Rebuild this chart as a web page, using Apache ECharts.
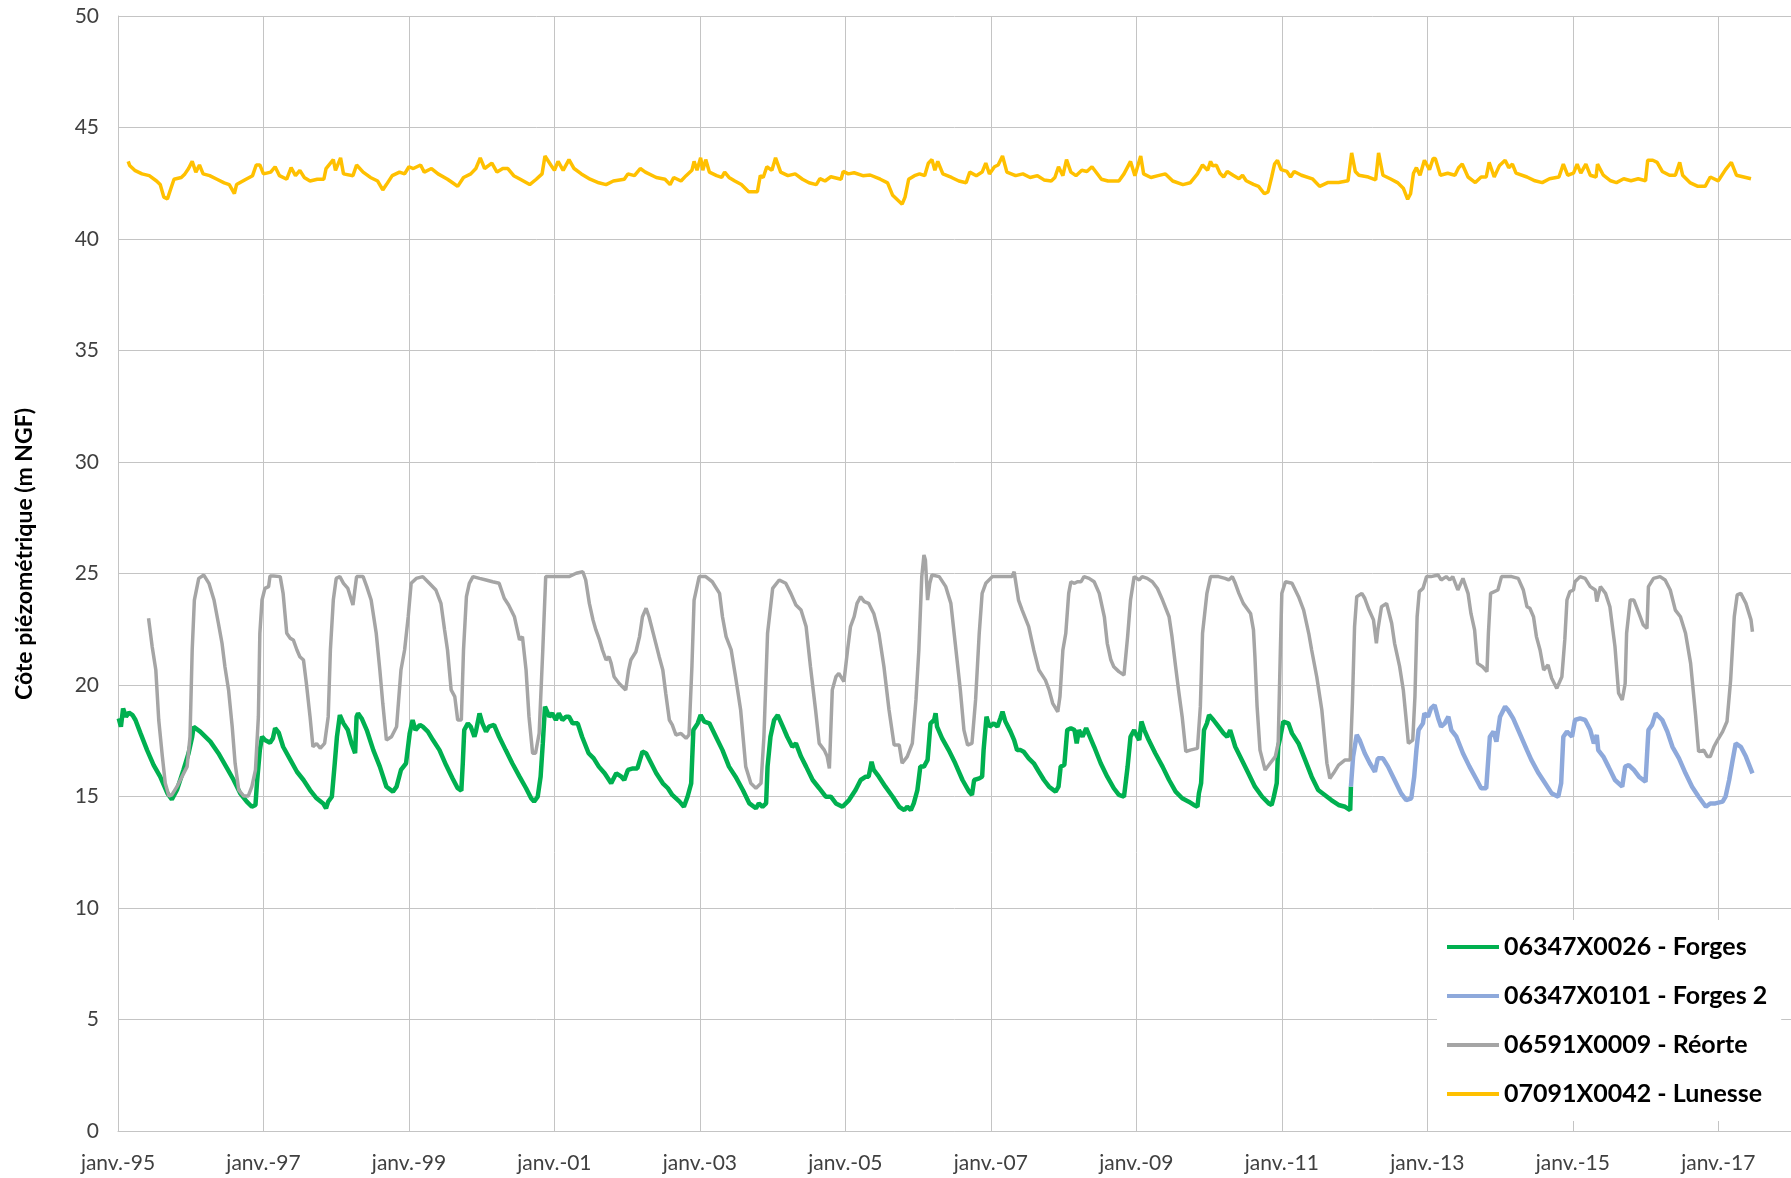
<!DOCTYPE html>
<html>
<head>
<meta charset="utf-8">
<script src="https://cdn.jsdelivr.net/npm/echarts@6/dist/echarts.min.js"></script>
<style>
html,body{margin:0;padding:0;background:#fff;}
#chart{width:1791px;height:1178px;}
</style>
</head>
<body>
<div id="chart"></div>
<script>
// ---- Data (x = decimal year, y = m NGF) ----
const seriesNames = ['06347X0026 - Forges', '06347X0101 - Forges 2', '06591X0009 - Réorte', '07091X0042 - Lunesse'];
const yearTicks = [1995, 1997, 1999, 2001, 2003, 2005, 2007, 2009, 2011, 2013, 2015, 2017];
const yAxisTitle = 'Côte piézométrique (m NGF)';

const forgesData = [
[1995.01,18.50],[1995.04,18.13],[1995.07,18.95],[1995.11,18.58],[1995.15,18.76],[1995.20,18.65],[1995.24,18.43],[1995.31,17.83],[1995.40,17.08],[1995.49,16.41],[1995.58,15.89],[1995.68,15.14],[1995.74,14.87],[1995.81,15.29],[1995.90,16.19],[1995.97,16.94],[1996.02,17.68],[1996.04,18.13],[1996.13,17.91],[1996.27,17.46],[1996.38,16.94],[1996.50,16.26],[1996.59,15.74],[1996.68,15.14],[1996.77,14.77],[1996.84,14.54],[1996.89,14.62],[1996.91,15.59],[1996.95,17.08],[1996.98,17.68],[1997.02,17.53],[1997.09,17.41],[1997.13,17.61],[1997.16,18.06],[1997.21,17.86],[1997.27,17.23],[1997.37,16.64],[1997.46,16.11],[1997.55,15.74],[1997.64,15.29],[1997.73,14.92],[1997.82,14.69],[1997.86,14.47],[1997.89,14.77],[1997.94,14.99],[1997.98,16.49],[1998.01,17.68],[1998.05,18.65],[1998.10,18.28],[1998.16,17.98],[1998.21,17.38],[1998.26,16.94],[1998.28,18.58],[1998.30,18.73],[1998.35,18.50],[1998.42,17.98],[1998.51,17.08],[1998.60,16.34],[1998.69,15.44],[1998.78,15.22],[1998.83,15.44],[1998.89,16.19],[1998.96,16.49],[1999.01,17.83],[1999.05,18.43],[1999.09,17.98],[1999.15,18.21],[1999.19,18.13],[1999.26,17.91],[1999.33,17.53],[1999.42,17.08],[1999.51,16.41],[1999.60,15.81],[1999.67,15.37],[1999.72,15.26],[1999.74,16.49],[1999.76,17.98],[1999.81,18.28],[1999.85,18.13],[1999.90,17.68],[1999.92,17.91],[1999.97,18.73],[2000.01,18.28],[2000.06,17.91],[2000.10,18.13],[2000.17,18.21],[2000.24,17.68],[2000.33,17.08],[2000.42,16.49],[2000.52,15.89],[2000.61,15.37],[2000.68,14.92],[2000.72,14.77],[2000.77,14.99],[2000.81,15.89],[2000.84,17.38],[2000.87,19.03],[2000.93,18.58],[2000.97,18.73],[2001.02,18.43],[2001.06,18.73],[2001.11,18.43],[2001.16,18.58],[2001.20,18.58],[2001.25,18.28],[2001.32,18.28],[2001.38,17.68],[2001.47,16.94],[2001.54,16.71],[2001.61,16.34],
[2001.69,16.04],[2001.78,15.59],[2001.85,16.04],[2001.92,15.89],[2001.96,15.74],[2002.01,16.19],[2002.08,16.26],[2002.14,16.26],[2002.21,17.01],[2002.26,16.94],[2002.33,16.49],[2002.40,16.04],[2002.49,15.59],[2002.56,15.37],[2002.62,15.07],[2002.72,14.77],[2002.78,14.54],[2002.83,14.99],[2002.88,15.59],[2002.91,17.98],[2002.97,18.28],[2003.01,18.65],[2003.06,18.36],[2003.13,18.28],[2003.22,17.68],[2003.31,17.08],[2003.40,16.34],[2003.49,15.89],[2003.59,15.29],[2003.68,14.69],[2003.77,14.47],[2003.81,14.69],[2003.86,14.54],[2003.91,14.69],[2003.93,16.34],[2003.97,17.68],[2004.02,18.43],[2004.07,18.65],[2004.14,18.13],[2004.20,17.68],[2004.27,17.23],[2004.32,17.38],[2004.39,16.79],[2004.46,16.34],[2004.55,15.74],[2004.64,15.37],[2004.73,14.99],[2004.80,14.99],[2004.87,14.69],[2004.96,14.54],[2005.05,14.84],[2005.14,15.29],[2005.21,15.74],[2005.28,15.89],[2005.32,15.89],[2005.36,16.56],[2005.39,16.19],[2005.46,15.89],[2005.55,15.44],[2005.65,14.99],[2005.74,14.54],[2005.81,14.39],[2005.85,14.54],[2005.90,14.39],[2005.94,14.69],[2005.99,15.29],[2006.03,16.34],[2006.08,16.34],[2006.13,16.64],[2006.17,18.28],[2006.22,18.43],[2006.24,18.73],[2006.26,18.13],[2006.33,17.61],[2006.42,17.08],[2006.51,16.49],[2006.61,15.74],[2006.70,15.22],[2006.74,15.07],[2006.77,15.74],[2006.84,15.81],[2006.88,15.89],[2006.90,17.08],[2006.94,18.58],[2006.98,18.13],[2007.04,18.28],[2007.09,18.13],[2007.13,18.50],[2007.16,18.80],[2007.20,18.36],[2007.27,17.91],[2007.32,17.53],[2007.36,17.08],[2007.41,17.08],[2007.45,17.01],[2007.52,16.71],[2007.59,16.49],[2007.66,16.11],[2007.73,15.74],[2007.80,15.44],
[2007.89,15.22],[2007.93,15.44],[2007.96,16.34],[2008.01,16.41],[2008.05,17.98],[2008.10,18.06],[2008.15,17.98],[2008.18,17.38],[2008.21,17.98],[2008.26,17.68],[2008.31,18.06],[2008.35,17.76],[2008.42,17.23],[2008.51,16.49],[2008.60,15.89],[2008.69,15.37],[2008.76,15.07],[2008.83,14.99],[2008.88,16.34],[2008.92,17.68],[2008.97,17.98],[2009.00,17.76],[2009.04,17.53],[2009.07,18.36],[2009.11,17.98],[2009.17,17.53],[2009.26,16.94],[2009.36,16.34],[2009.45,15.74],[2009.54,15.22],[2009.63,14.92],[2009.72,14.77],[2009.79,14.62],[2009.84,14.54],[2009.86,15.14],[2009.89,15.59],[2009.93,17.98],[2009.97,18.28],[2010.00,18.65],[2010.06,18.43],[2010.13,18.13],[2010.20,17.83],[2010.25,17.68],[2010.29,17.98],[2010.36,17.23],[2010.45,16.64],[2010.54,16.04],[2010.63,15.44],[2010.73,14.99],[2010.82,14.69],[2010.86,14.62],[2010.89,14.99],[2010.93,15.59],[2010.95,17.23],[2010.98,17.68],[2011.02,18.36],[2011.09,18.28],[2011.14,17.83],[2011.23,17.38],[2011.32,16.64],[2011.41,15.89],[2011.50,15.29],[2011.59,15.07],[2011.68,14.84],[2011.78,14.62],[2011.87,14.54],[2011.94,14.39],[2011.95,15.44]
];

const forges2Data = [
[2011.95,15.44],[2011.98,16.79],[2012.03,17.76],[2012.07,17.53],[2012.14,16.94],[2012.21,16.49],[2012.28,16.11],[2012.32,16.71],[2012.39,16.71],[2012.46,16.34],[2012.55,15.74],[2012.64,15.14],[2012.71,14.84],[2012.78,14.92],[2012.82,15.89],[2012.85,17.08],[2012.88,17.98],[2012.94,18.28],[2012.96,18.73],[2013.01,18.58],[2013.05,18.95],[2013.10,19.10],[2013.15,18.50],[2013.19,18.13],[2013.24,18.28],[2013.29,18.58],[2013.33,17.98],[2013.40,17.68],[2013.49,16.94],[2013.58,16.34],[2013.68,15.74],[2013.74,15.37],[2013.81,15.37],[2013.86,17.68],[2013.91,17.91],[2013.95,17.46],[2014.00,18.58],[2014.07,19.03],[2014.11,18.88],[2014.18,18.50],[2014.27,17.83],[2014.37,17.08],[2014.43,16.64],[2014.53,16.04],[2014.62,15.59],[2014.71,15.14],[2014.80,14.99],[2014.84,15.59],[2014.87,17.68],[2014.92,17.91],[2014.99,17.68],[2015.03,18.43],[2015.10,18.50],[2015.17,18.43],[2015.24,17.98],[2015.29,17.38],[2015.33,17.76],[2015.35,17.08],[2015.42,16.79],[2015.49,16.34],[2015.58,15.74],[2015.68,15.44],[2015.72,16.34],[2015.77,16.41],[2015.84,16.19],[2015.91,15.89],[2016.00,15.66],[2016.04,17.98],[2016.09,18.21],[2016.14,18.73],[2016.23,18.43],[2016.30,17.91],[2016.37,17.23],[2016.46,16.71],[2016.55,16.04],[2016.64,15.44],[2016.73,14.99],[2016.83,14.54],[2016.89,14.69],[2016.96,14.69],[2017.06,14.77],[2017.10,14.99],[2017.15,15.74],[2017.19,16.49],[2017.24,17.38],[2017.31,17.23],[2017.38,16.79],[2017.47,16.04]
];

const reorteData = [
[1995.42,22.99],[1995.47,21.72],[1995.52,20.67],[1995.56,18.43],[1995.61,16.79],[1995.65,15.59],[1995.70,15.02],[1995.74,15.07],[1995.81,15.44],[1995.88,15.89],[1995.95,16.34],[1995.99,17.68],[1996.02,21.57],[1996.05,23.81],[1996.11,24.78],[1996.18,24.93],[1996.25,24.56],[1996.32,23.81],[1996.38,22.77],[1996.43,21.87],[1996.47,20.82],[1996.52,19.78],[1996.57,18.13],[1996.61,16.49],[1996.66,15.29],[1996.73,15.02],[1996.79,15.02],[1996.84,15.44],[1996.89,16.19],[1996.93,18.58],[1996.95,22.32],[1996.98,23.81],[1997.02,24.33],[1997.07,24.41],[1997.09,24.89],[1997.14,24.89],[1997.23,24.86],[1997.27,24.11],[1997.32,22.32],[1997.37,22.09],[1997.41,22.02],[1997.46,21.57],[1997.50,21.27],[1997.55,21.12],[1997.59,20.07],[1997.64,18.58],[1997.68,17.23],[1997.73,17.38],[1997.78,17.16],[1997.84,17.38],[1997.89,18.58],[1997.92,21.57],[1997.96,23.81],[1998.00,24.78],[1998.05,24.86],[1998.10,24.56],[1998.16,24.33],[1998.23,23.59],[1998.28,24.86],[1998.37,24.86],[1998.42,24.41],[1998.48,23.81],[1998.55,22.32],[1998.60,20.67],[1998.64,19.18],[1998.69,17.53],[1998.76,17.68],[1998.83,18.13],[1998.89,20.67],[1998.94,21.57],[1998.99,23.06],[1999.03,24.56],[1999.10,24.78],[1999.19,24.86],[1999.28,24.56],[1999.37,24.26],[1999.44,23.66],[1999.49,22.47],[1999.53,21.57],[1999.58,19.78],[1999.63,19.48],[1999.67,18.43],[1999.72,18.43],[1999.75,21.57],[1999.79,23.96],[1999.83,24.56],[1999.88,24.86],[1999.97,24.78],[2000.06,24.71],[2000.15,24.63],[2000.24,24.56],[2000.31,23.89],[2000.37,23.59],[2000.45,23.06],[2000.52,22.02],[2000.56,22.17],[2000.61,20.67],[2000.65,18.58],[2000.70,16.94],[2000.74,16.94],[2000.79,17.83],[2000.84,21.57],[2000.88,24.86],[2000.97,24.86],[2001.06,24.86],[2001.20,24.86],[2001.30,25.01],[2001.39,25.08],[2001.43,24.71],[2001.48,23.66],[2001.53,22.92],[2001.57,22.47],[2001.62,22.02],[2001.66,21.57],[2001.71,21.12],[2001.75,21.27],[2001.78,20.97],[2001.82,20.37],[2001.89,20.07],[2001.98,19.78],[2002.02,20.67],[2002.05,21.12],[2002.12,21.49],[2002.17,22.17],[2002.21,23.06],[2002.26,23.44],[2002.30,23.06],[2002.37,22.17],[2002.44,21.27],[2002.49,20.67],[2002.53,19.63],[2002.58,18.43],[2002.62,18.21],[2002.67,17.76],[2002.74,17.83],[2002.81,17.61],[2002.85,17.76],[2002.89,20.82],[2002.92,23.81],[2002.99,24.86],[2003.08,24.86],[2003.17,24.63],[2003.27,24.11],[2003.31,23.06],[2003.36,22.17],[2003.43,21.57],[2003.49,20.37],[2003.56,18.88],[2003.63,16.34],[2003.70,15.59],[2003.77,15.37],[2003.84,15.59],[2003.88,17.68],[2003.93,22.32],[2004.00,24.33],[2004.09,24.71],[2004.18,24.56],[2004.25,24.11],[2004.32,23.59],[2004.39,23.36],[2004.46,22.62],[2004.52,20.82],[2004.59,18.88],[2004.64,17.38],[2004.71,17.08],[2004.75,16.79],[2004.78,16.26],[2004.82,19.78],[2004.87,20.37],[2004.91,20.52],[2004.98,20.15],[2005.03,21.57],[2005.07,22.62],[2005.12,23.06],[2005.16,23.66],[2005.21,23.96],[2005.26,23.74],[2005.32,23.66],[2005.39,23.21],[2005.46,22.32],[2005.53,20.82],[2005.60,18.88],[2005.67,17.31],[2005.74,17.31],[2005.78,16.49],[2005.85,16.79],[2005.92,17.38],[2005.97,19.33],[2006.01,21.57],[2006.05,24.86],[2006.08,25.83],[2006.10,25.61],[2006.13,23.81],[2006.16,24.56],[2006.19,24.93],[2006.29,24.86],[2006.38,24.41],[2006.45,23.66],[2006.51,21.87],[2006.58,19.78],[2006.63,17.98],[2006.68,17.31],[2006.74,17.38],[2006.79,19.33],[2006.84,22.32],[2006.88,24.11],[2006.93,24.56],[2007.02,24.86],[2007.16,24.86],[2007.29,24.86],[2007.32,25.08],[2007.38,23.81],[2007.43,23.36],[2007.52,22.62],[2007.59,21.57],[2007.66,20.67],[2007.75,20.22],[2007.80,19.78],[2007.85,19.18],[2007.92,18.80],[2007.95,19.48],[2007.99,21.57],[2008.03,22.32],[2008.07,24.11],[2008.10,24.63],[2008.15,24.56],[2008.19,24.63],[2008.24,24.63],[2008.28,24.86],[2008.35,24.78],[2008.42,24.63],[2008.49,24.11],[2008.56,23.06],[2008.60,21.87],[2008.65,21.12],[2008.69,20.82],[2008.76,20.60],[2008.83,20.45],[2008.88,22.17],[2008.92,23.81],[2008.97,24.86],[2009.04,24.71],[2009.08,24.86],[2009.15,24.78],[2009.22,24.63],[2009.29,24.33],[2009.36,23.81],[2009.45,23.06],[2009.49,22.17],[2009.54,20.82],[2009.58,19.78],[2009.63,18.58],[2009.68,17.01],[2009.74,17.08],[2009.84,17.16],[2009.88,19.03],[2009.91,22.32],[2009.97,24.11],[2010.02,24.86],[2010.13,24.86],[2010.22,24.78],[2010.27,24.71],[2010.32,24.86],[2010.36,24.56],[2010.41,24.11],[2010.47,23.66],[2010.57,23.21],[2010.61,22.47],[2010.63,21.27],[2010.66,19.03],[2010.70,17.08],[2010.77,16.19],[2010.84,16.49],[2010.91,16.79],[2010.95,17.38],[2010.98,21.57],[2011.00,24.11],[2011.05,24.63],[2011.14,24.56],[2011.23,23.96],[2011.30,23.36],[2011.37,22.32],[2011.41,21.57],[2011.48,20.37],[2011.55,18.88],[2011.62,16.49],[2011.66,15.81],[2011.71,16.04],[2011.78,16.41],[2011.87,16.64],[2011.94,16.64],[2011.97,19.18],[2012.00,22.62],[2012.03,23.96],[2012.10,24.11],[2012.14,23.89],[2012.20,23.36],[2012.26,22.92],[2012.30,21.87],[2012.32,22.47],[2012.37,23.51],[2012.44,23.66],[2012.51,22.77],[2012.55,21.87],[2012.62,20.82],[2012.67,19.78],[2012.71,18.43],[2012.74,17.38],[2012.80,17.53],[2012.83,19.48],[2012.86,23.06],[2012.89,24.19],[2012.94,24.33],[2012.99,24.86],[2013.05,24.86],[2013.15,24.93],[2013.19,24.71],[2013.26,24.86],[2013.31,24.71],[2013.35,24.86],[2013.42,24.26],[2013.49,24.78],[2013.56,24.11],[2013.60,23.21],[2013.65,22.47],[2013.69,20.97],[2013.76,20.82],[2013.82,20.60],[2013.84,22.32],[2013.87,24.11],[2013.97,24.26],[2014.02,24.86],[2014.16,24.86],[2014.25,24.78],[2014.32,24.26],[2014.37,23.51],[2014.41,23.44],[2014.46,23.06],[2014.50,22.17],[2014.55,21.57],[2014.60,20.67],[2014.66,20.90],[2014.71,20.30],[2014.78,19.85],[2014.85,20.37],[2014.89,22.02],[2014.92,23.81],[2014.96,24.19],[2015.01,24.26],[2015.03,24.63],[2015.10,24.86],[2015.17,24.78],[2015.24,24.41],[2015.31,24.26],[2015.33,23.74],[2015.38,24.41],[2015.45,24.11],[2015.51,23.51],[2015.58,21.72],[2015.63,19.63],[2015.68,19.33],[2015.72,20.07],[2015.74,22.32],[2015.79,23.81],[2015.84,23.81],[2015.91,23.21],[2015.97,22.69],[2016.02,22.54],[2016.04,24.41],[2016.11,24.78],[2016.20,24.86],[2016.27,24.71],[2016.34,24.26],[2016.41,23.36],[2016.48,23.06],[2016.55,22.32],[2016.62,20.97],[2016.69,18.58],[2016.73,17.01],[2016.80,17.08],[2016.85,16.79],[2016.89,16.79],[2016.94,17.23],[2016.99,17.53],[2017.06,17.91],[2017.12,18.36],[2017.17,20.22],[2017.22,23.06],[2017.26,24.04],[2017.31,24.11],[2017.38,23.66],[2017.45,22.92],[2017.47,22.39]
];

const lunesseData = [
[1995.14,43.48],[1995.16,43.30],[1995.23,43.08],[1995.33,42.92],[1995.43,42.84],[1995.53,42.60],[1995.58,42.44],[1995.63,41.88],[1995.68,41.80],[1995.72,42.20],[1995.77,42.68],[1995.87,42.76],[1995.92,42.92],[1995.97,43.16],[1996.02,43.48],[1996.07,43.00],[1996.12,43.32],[1996.17,42.92],[1996.26,42.84],[1996.36,42.68],[1996.46,42.52],[1996.53,42.44],[1996.60,42.04],[1996.63,42.44],[1996.76,42.68],[1996.85,42.84],[1996.90,43.32],[1996.95,43.32],[1997.00,42.92],[1997.10,43.00],[1997.16,43.24],[1997.22,42.84],[1997.32,42.68],[1997.38,43.20],[1997.44,42.84],[1997.50,43.08],[1997.56,42.76],[1997.64,42.60],[1997.74,42.68],[1997.83,42.68],[1997.86,43.16],[1997.96,43.56],[1997.99,43.08],[1998.06,43.64],[1998.10,42.92],[1998.23,42.84],[1998.28,43.32],[1998.37,43.00],[1998.47,42.76],[1998.57,42.60],[1998.64,42.20],[1998.69,42.44],[1998.77,42.84],[1998.87,43.00],[1998.94,42.92],[1999.00,43.24],[1999.06,43.16],[1999.16,43.32],[1999.21,43.00],[1999.31,43.16],[1999.40,42.92],[1999.53,42.68],[1999.60,42.52],[1999.67,42.36],[1999.75,42.76],[1999.85,42.92],[1999.92,43.16],[1999.98,43.64],[2000.04,43.16],[2000.14,43.40],[2000.21,43.00],[2000.29,43.16],[2000.36,43.16],[2000.44,42.84],[2000.53,42.68],[2000.66,42.44],[2000.75,42.68],[2000.83,42.92],[2000.87,43.72],[2000.95,43.32],[2001.00,43.08],[2001.05,43.48],[2001.12,43.08],[2001.20,43.56],[2001.27,43.16],[2001.37,42.92],[2001.49,42.68],[2001.61,42.52],[2001.71,42.44],[2001.81,42.60],[2001.96,42.68],[2002.01,42.92],[2002.10,42.84],[2002.18,43.16],[2002.25,43.00],[2002.40,42.76],
[2002.52,42.68],[2002.59,42.44],[2002.64,42.76],[2002.74,42.60],[2002.81,42.84],[2002.89,43.08],[2002.92,43.48],[2002.96,43.08],[2003.01,43.64],[2003.04,43.08],[2003.08,43.56],[2003.13,43.00],[2003.23,42.84],[2003.30,42.76],[2003.34,43.00],[2003.40,42.76],[2003.48,42.60],[2003.57,42.44],[2003.67,42.12],[2003.79,42.12],[2003.83,42.84],[2003.87,42.76],[2003.92,43.24],[2003.99,43.08],[2004.04,43.64],[2004.11,43.00],[2004.21,42.84],[2004.31,42.92],[2004.41,42.68],[2004.50,42.52],[2004.60,42.44],[2004.65,42.71],[2004.72,42.60],[2004.80,42.79],[2004.94,42.68],[2004.97,43.03],[2005.04,42.92],[2005.12,42.97],[2005.24,42.84],[2005.34,42.87],[2005.48,42.68],[2005.58,42.52],[2005.65,41.96],[2005.78,41.56],[2005.82,41.88],[2005.87,42.68],[2005.95,42.84],[2006.02,42.92],[2006.09,42.84],[2006.14,43.40],[2006.19,43.56],[2006.23,43.08],[2006.27,43.48],[2006.34,42.92],[2006.46,42.76],[2006.56,42.60],[2006.66,42.52],[2006.71,43.00],[2006.80,42.84],[2006.88,43.00],[2006.93,43.40],[2006.98,42.92],[2007.05,43.24],[2007.10,43.32],[2007.16,43.72],[2007.22,43.00],[2007.34,42.84],[2007.44,42.92],[2007.54,42.76],[2007.64,42.84],[2007.73,42.65],[2007.83,42.60],[2007.88,42.76],[2007.93,43.24],[2007.99,42.84],[2008.04,43.56],[2008.10,43.00],[2008.17,42.84],[2008.25,43.08],[2008.32,43.03],[2008.39,43.24],[2008.52,42.68],[2008.61,42.60],[2008.76,42.60],[2008.83,42.92],[2008.92,43.48],[2008.98,42.84],[2009.06,43.72],[2009.10,42.92],[2009.20,42.76],[2009.30,42.84],[2009.40,42.92],[2009.50,42.60],[2009.64,42.44],[2009.74,42.52],[2009.84,42.92],[2009.91,43.32],[2009.98,43.08],[2010.02,43.48],[2010.05,43.28],
[2010.10,43.31],[2010.15,42.95],[2010.20,42.78],[2010.25,43.03],[2010.33,42.86],[2010.41,42.70],[2010.46,42.86],[2010.51,42.61],[2010.61,42.45],[2010.68,42.36],[2010.76,42.03],[2010.81,42.11],[2010.86,42.78],[2010.90,43.36],[2010.94,43.53],[2010.99,43.11],[2011.07,43.03],[2011.12,42.78],[2011.17,43.03],[2011.27,42.86],[2011.42,42.70],[2011.52,42.36],[2011.63,42.53],[2011.78,42.53],[2011.91,42.61],[2011.96,43.86],[2012.01,43.03],[2012.06,42.86],[2012.19,42.78],[2012.29,42.65],[2012.33,43.86],[2012.39,42.86],[2012.49,42.70],[2012.59,42.53],[2012.67,42.28],[2012.73,41.78],[2012.77,42.03],[2012.81,42.95],[2012.85,43.20],[2012.90,42.86],[2012.96,43.53],[2013.03,43.11],[2013.08,43.61],[2013.11,43.61],[2013.18,42.86],[2013.28,42.95],[2013.38,42.86],[2013.43,43.20],[2013.48,43.36],[2013.56,42.78],[2013.66,42.53],[2013.74,42.78],[2013.81,42.78],[2013.85,43.44],[2013.92,42.78],[2013.99,43.28],[2014.07,43.53],[2014.12,43.20],[2014.17,43.36],[2014.22,42.95],[2014.37,42.78],[2014.48,42.61],[2014.58,42.53],[2014.68,42.70],[2014.81,42.78],[2014.87,43.36],[2014.93,42.86],[2015.01,42.95],[2015.06,43.36],[2015.11,42.95],[2015.18,43.36],[2015.24,42.86],[2015.32,42.78],[2015.34,43.36],[2015.42,42.86],[2015.52,42.61],[2015.60,42.53],[2015.70,42.70],[2015.80,42.61],[2015.90,42.70],[2016.00,42.61],[2016.03,43.53],[2016.10,43.53],[2016.16,43.44],[2016.23,43.03],[2016.33,42.86],[2016.41,42.86],[2016.47,43.44],[2016.51,42.86],[2016.61,42.53],[2016.72,42.36],[2016.82,42.36],[2016.89,42.78],[2017.00,42.61],[2017.10,43.11],[2017.18,43.44],[2017.25,42.86],[2017.35,42.78],[2017.45,42.70]
];

const colors = ['#00B050', '#8EA9DB', '#A5A5A5', '#FFC000'];
const widths = [4.5, 4.5, 3.5, 3.5];
const allData = [forgesData, forges2Data, reorteData, lunesseData];

const chart = echarts.init(document.getElementById('chart'));
const FONT = 'Lato, "Open Sans", sans-serif';
const gridColor = '#c4c4c4';

chart.setOption({
  animation: false,
  backgroundColor: '#ffffff',
  textStyle: { fontFamily: FONT },
  grid: { left: 118, right: 0, top: 16, bottom: 47, containLabel: false },
  xAxis: {
    type: 'value', min: 1995, max: 2018, interval: 2,
    axisLine: { show: true, lineStyle: { color: gridColor, width: 1 } },
    axisTick: { show: false, customValues: yearTicks },
    splitLine: { show: true, lineStyle: { color: gridColor, width: 1 } },
    axisLabel: {
      customValues: yearTicks,
      fontFamily: FONT, fontSize: 21, color: '#404040', margin: 22,
      formatter: v => 'janv.-' + String(Math.round(v)).slice(2)
    }
  },
  yAxis: {
    type: 'value', min: 0, max: 50, interval: 5,
    axisLine: { show: true, lineStyle: { color: gridColor, width: 1 } },
    axisTick: { show: false },
    splitLine: { show: true, lineStyle: { color: gridColor, width: 1 } },
    axisLabel: { fontFamily: FONT, fontSize: 21, color: '#404040', margin: 19 }
  },
  graphic: [{
    type: 'text', x: 25, y: 554, rotation: Math.PI / 2,
    style: { text: yAxisTitle, font: 'bold 23px ' + FONT, fill: '#000', align: 'center', verticalAlign: 'middle' }
  }],
  legend: {
    orient: 'vertical', left: 1437, top: 920,
    backgroundColor: '#ffffff',
    padding: [12, 14, 12, 10],
    icon: 'rect',
    itemWidth: 52, itemHeight: 4, itemGap: 19,
    textStyle: { fontFamily: FONT, fontSize: 25, fontWeight: 'bold', color: '#000', lineHeight: 30 },
    data: seriesNames
  },
  series: seriesNames.map((n, i) => ({
    name: n, type: 'line', data: allData[i], symbol: 'none', showSymbol: false,
    lineStyle: { color: colors[i], width: widths[i] }, itemStyle: { color: colors[i] },
    z: 2 + i
  }))
});
</script>
</body>
</html>
